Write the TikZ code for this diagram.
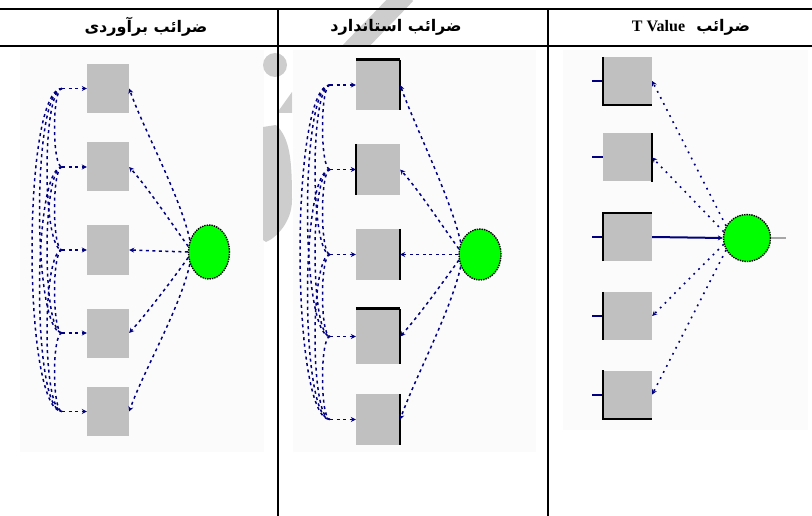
\documentclass[tikz,border=0pt]{standalone}
\usepackage{fontspec}
\usetikzlibrary{shapes.geometric,arrows.meta}
\TeXXeTstate=1
\newfontfamily\arabicfont[Script=Arabic]{DejaVu Sans}
\newfontfamily\latinfont{Liberation Serif}
\definecolor{boxgray}{HTML}{C0C0C0}
\definecolor{lvgreen}{HTML}{00FF00}
\definecolor{pathnavy}{HTML}{000080}
\definecolor{wmgray}{HTML}{CDCDCD}
\definecolor{panelbg}{HTML}{FBFBFB}
\tikzset{
  obs/.style={rectangle,fill=boxgray,inner sep=0pt,minimum width=42pt,minimum height=49pt},
  lv/.style={ellipse,fill=lvgreen,draw=black,densely dotted,line width=1.4pt,inner sep=0pt},
  corr/.style={draw=pathnavy,line width=1.5pt,dash pattern=on 3pt off 3.5pt},
  tpath/.style={draw=pathnavy,line width=1.6pt,dash pattern=on 1.8pt off 5pt},
  errl/.style={draw=pathnavy,line width=2pt},
  tip/.style={-{Stealth[length=5pt,width=5pt]}},
  rule/.style={line width=2.2pt,black},
  bord/.style={line width=3pt,black},
  side/.style={line width=2.4pt,black},
  head/.style={inner sep=0pt,font=\fontsize{16}{18}\selectfont}
}
\begin{document}
\begin{tikzpicture}[x=1pt,y=-1pt]
\useasboundingbox (0,0) rectangle (812,516);
\fill[white] (0,0) rectangle (812,516);
% panel backgrounds
\fill[panelbg] (20,50) rectangle (264,452);
\fill[panelbg] (293,50) rectangle (536,452);
\fill[panelbg] (563,50) rectangle (808,430);
% watermark
\fill[wmgray] (275,65) circle (12);
\fill[wmgray] (277,113) -- (292,92) -- (292,113) -- cycle;
\fill[wmgray] (263,127) -- (276,125) .. controls (290,138) and (292,160) .. (292,200)
   .. controls (292,222) and (276,238) .. (266,242) -- (263,240) -- cycle;
\begin{scope}
\clip (300,0) rectangle (440,45);
\draw[wmgray,line width=20pt] (350,52) -- (406,-6);
\end{scope}
% table rules
\draw[rule] (0,9) -- (812,9);
\draw[rule] (0,46) -- (812,46);
\draw[rule] (278,9) -- (278,516);
\draw[rule] (548,9) -- (548,516);
% headers
\node[head] (h1) at (146,27) {\arabicfont\bfseries\beginR ضرائب برآوردی\endR};
\node[head] (h2) at (396,27) {\arabicfont\bfseries\beginR ضرائب استاندارد\endR};
\node[head] (h3) at (691,27) {\arabicfont\bfseries\beginR ضرائب\ \ \beginL{\latinfont\bfseries\fontsize{16}{18}\selectfont T Value}\endL\endR};

% ---------------- Panel 1
\foreach \i/\y in {1/88.5,2/167,3/250,4/333,5/411.5} {
  \node[obs] (p1b\i) at (108,\y) {};
  \coordinate (p1e\i) at (62,\y);
}
\node[lv,minimum width=41pt,minimum height=54pt] (p1c) at (209,252) {};
\foreach \i in {1,...,4} {
  \pgfmathtruncatemacro\n{\i+1}
  \foreach \j in {\n,...,5} {
    \pgfmathsetmacro\b{(\j-\i)*10}
    \draw[corr] (p1e\i) .. controls +(-\b,0) and +(-\b,0) .. (p1e\j);
  }
}
\foreach \i in {1,...,5} { \draw[corr,tip] (p1e\i) -- (p1b\i.west); }
\draw[corr,tip] (p1c.148) .. controls +(-10,-45) and +(14,40) .. (p1b1.east);
\draw[corr,tip] (p1c.165) .. controls +(-18,-25) and +(18,20) .. (p1b2.east);
\draw[corr,tip] (p1c.west) -- (p1b3.east);
\draw[corr,tip] (p1c.195) .. controls +(-18,25) and +(18,-20) .. (p1b4.east);
\draw[corr,tip] (p1c.212) .. controls +(-10,45) and +(14,-40) .. (p1b5.east);

% ---------------- Panel 2
\node[obs,minimum width=44pt,minimum height=50pt] (p2b1) at (378,85) {};
\node[obs,minimum width=44pt,minimum height=51pt] (p2b2) at (378,169.5) {};
\node[obs,minimum width=44pt,minimum height=51pt] (p2b3) at (378,254.5) {};
\node[obs,minimum width=44pt,minimum height=55pt] (p2b4) at (378,336.5) {};
\node[obs,minimum width=44pt,minimum height=51pt] (p2b5) at (378,419.5) {};
\foreach \i/\y in {1/85,2/169.5,3/254.5,4/336.5,5/419.5} { \coordinate (p2e\i) at (330,\y); }
\draw[bord] (p2b1.north west) -- (p2b1.north east);
\draw[side] (p2b1.north east) -- (p2b1.south east);
\draw[side] (p2b2.north west) -- (p2b2.south west);
\draw[side] (p2b3.north east) -- (p2b3.south east);
\draw[bord] (p2b4.north west) -- (p2b4.north east);
\draw[side] (p2b4.north east) -- (p2b4.south east);
\draw[side] (p2b5.north east) -- (p2b5.south east);
\node[lv,minimum width=42pt,minimum height=51pt] (p2c) at (480,254.5) {};
\foreach \i in {1,...,4} {
  \pgfmathtruncatemacro\n{\i+1}
  \foreach \j in {\n,...,5} {
    \pgfmathsetmacro\b{(\j-\i)*10}
    \draw[corr] (p2e\i) .. controls +(-\b,0) and +(-\b,0) .. (p2e\j);
  }
}
\foreach \i in {1,...,5} { \draw[corr,tip] (p2e\i) -- (p2b\i.west); }
\draw[corr,tip] (p2c.148) .. controls +(-10,-45) and +(14,40) .. (p2b1.east);
\draw[corr,tip] (p2c.165) .. controls +(-18,-25) and +(18,20) .. (p2b2.east);
\draw[corr,tip] (p2c.west) -- (p2b3.east);
\draw[corr,tip] (p2c.195) .. controls +(-18,25) and +(18,-20) .. (p2b4.east);
\draw[corr,tip] (p2c.212) .. controls +(-10,45) and +(14,-40) .. (p2b5.east);

% ---------------- Panel 3
\foreach \i/\y in {1/81,2/157.5,3/237,4/316,5/394.5} {
  \node[obs,minimum width=49pt,minimum height=48pt] (p3b\i) at (627.5,\y) {};
  \coordinate (p3e\i) at (592,\y);
  \draw[errl] (p3e\i) -- (p3b\i.west);
}
\draw[side] (p3b1.north west) -- (p3b1.south west) -- (p3b1.south east);
\draw[side] (p3b2.north east) -- (p3b2.south east);
\draw[side] (p3b3.south west) -- (p3b3.north west) -- (p3b3.north east);
\draw[side] (p3b4.north west) -- (p3b4.south west);
\draw[side] (p3b5.north west) -- (p3b5.south west) -- (p3b5.south east);
\node[lv,circle,minimum size=47pt] (p3c) at (747,238) {};
\coordinate (p3o) at (786,238);
\draw[gray!70,line width=1.8pt] (p3c.east) -- (p3o);
\draw[tpath,tip] (p3c.150) -- (p3b1.east);
\draw[tpath,tip] (p3c.165) -- (p3b2.east);
\draw[errl,tip] (p3b3.east) -- (p3c.west);
\draw[tpath,tip] (p3c.195) -- (p3b4.east);
\draw[tpath,tip] (p3c.210) -- (p3b5.east);
\end{tikzpicture}
\end{document}
